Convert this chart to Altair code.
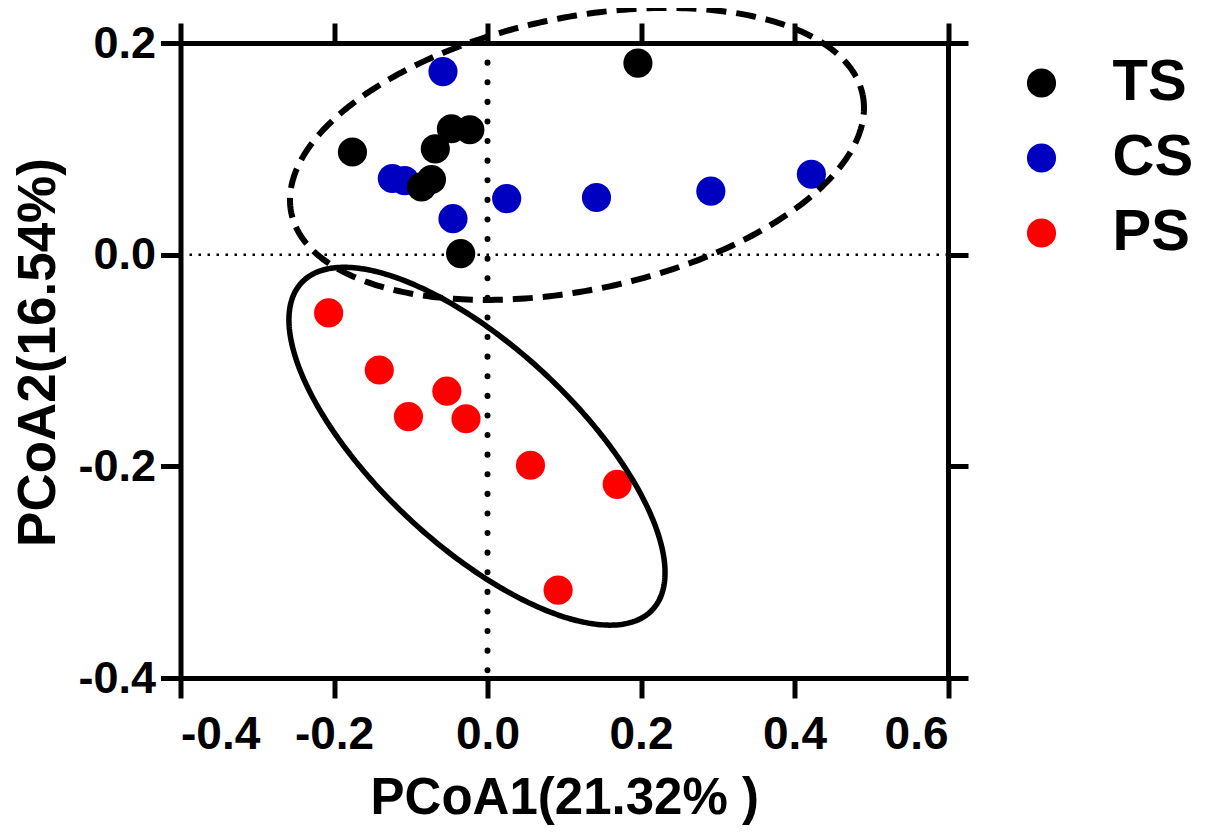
import altair as alt
import numpy as np
import pandas as pd

# ---------------- data ----------------
legend_order = ["TS", "CS", "PS"]
group_colors = ["#000000", "#0000C0", "#FF0000"]

ts_x = [0.196, -0.176, -0.068, -0.047, -0.023, -0.086, -0.073, -0.035]
ts_y = [0.181, 0.097, 0.100, 0.119, 0.118, 0.064, 0.071, 0.001]

cs_x = [-0.058, -0.124, -0.108, -0.045, 0.025, 0.142, 0.291, 0.422]
cs_y = [0.173, 0.072, 0.070, 0.034, 0.053, 0.054, 0.060, 0.076]

ps_x = [-0.207, -0.141, -0.053, -0.103, -0.028, 0.056, 0.169, 0.092]
ps_y = [-0.055, -0.109, -0.129, -0.153, -0.155, -0.199, -0.217, -0.317]

x_ticks = [-0.4, -0.2, 0.0, 0.2, 0.4, 0.6]
y_ticks = [-0.4, -0.2, 0.0, 0.2]
x_title = "PCoA1(21.32% )"
y_title = "PCoA2(16.54%)"

# ellipses in data units: centre x, centre y, semi-axis 1 (dx, dy), semi-axis 2 (dx, dy)
dashed_ellipse = [0.1166, 0.0952, 0.3722, 0.0559, 0.0360, -0.1261]
solid_ellipse = [-0.0137, -0.181, 0.2286, -0.1545, -0.0882, -0.0686]

ref_zero = [0.0]

# ---------------- tables ----------------
pts = pd.DataFrame({
    "x": cs_x + ts_x + ps_x,
    "y": cs_y + ts_y + ps_y,
    "group": ["CS"] * len(cs_x) + ["TS"] * len(ts_x) + ["PS"] * len(ps_x),
})


def ellipse_df(p):
    t = np.linspace(0, 2 * np.pi, 361)
    cx, cy, ux, uy, vx, vy = p
    return pd.DataFrame({
        "x": cx + ux * np.cos(t) + vx * np.sin(t),
        "y": cy + uy * np.cos(t) + vy * np.sin(t),
        "i": np.arange(len(t)),
    })


zero_df = pd.DataFrame({"v": ref_zero})

FONT = "Liberation Sans"
xs = alt.Scale(domain=[-0.4, 0.6], nice=False, zero=False)
ys = alt.Scale(domain=[-0.4, 0.2], nice=False, zero=False)
minus_fix = "replace(datum.label, '\u2212', '-')"

axis_common = dict(
    domainColor="black", domainWidth=5, tickColor="black", tickWidth=5,
    tickSize=20, grid=False, labelFont=FONT, labelFontWeight="bold",
    labelColor="black", titleFont=FONT, titleFontWeight="bold", titleColor="black",
)

hrule = alt.Chart(zero_df).mark_rule(
    color="black", strokeWidth=2.5, strokeDash=[2.5, 6.5]
).encode(y=alt.Y("v:Q", scale=ys, axis=None))

vrule = alt.Chart(zero_df).mark_rule(
    color="black", strokeWidth=6, strokeDash=[0.1, 19.5], strokeCap="round"
).encode(x=alt.X("v:Q", scale=xs, axis=None))

points = alt.Chart(pts).mark_circle(size=850, opacity=1).encode(
    x=alt.X("x:Q", scale=xs, axis=alt.Axis(
        orient="bottom", values=x_ticks, format=".1f", labelExpr=minus_fix,
        labelFontSize=46, labelPadding=14, title=x_title, titleFontSize=51,
        titlePadding=16, **axis_common)),
    y=alt.Y("y:Q", scale=ys, axis=alt.Axis(
        orient="left", values=y_ticks, format=".1f", labelExpr=minus_fix,
        labelFontSize=45, labelPadding=5, title=y_title, titleFontSize=53,
        titlePadding=12, titleY=309, **axis_common)),
    color=alt.Color("group:N", scale=alt.Scale(domain=legend_order, range=group_colors),
                    legend=alt.Legend(
                        orient="none", legendX=832, legendY=11, title=None,
                        symbolType="circle", symbolSize=850, symbolStrokeWidth=0,
                        symbolOpacity=1, labelFont=FONT, labelFontWeight="bold",
                        labelFontSize=58, labelColor="black", labelOffset=42,
                        rowPadding=17, padding=0)),
)

dashed = alt.Chart(ellipse_df(dashed_ellipse)).mark_line(
    color="black", strokeWidth=6, strokeDash=[20, 10]
).encode(
    x=alt.X("x:Q", scale=xs, axis=None),
    y=alt.Y("y:Q", scale=ys, axis=None),
    order="i:Q",
)

solid = alt.Chart(ellipse_df(solid_ellipse)).mark_line(
    color="black", strokeWidth=5.5
).encode(
    x=alt.X("x:Q", scale=xs, axis=None),
    y=alt.Y("y:Q", scale=ys, axis=None),
    order="i:Q",
)

frame = alt.Chart(pts).mark_point(opacity=0).encode(
    x=alt.X("x:Q", scale=xs, axis=alt.Axis(
        orient="top", values=x_ticks, labels=False, title=None, **axis_common)),
    y=alt.Y("y:Q", scale=ys, axis=alt.Axis(
        orient="right", values=y_ticks, labels=False, title=None, **axis_common)),
)

chart = alt.layer(hrule, vrule, points, dashed, solid, frame).resolve_axis(
    x="independent", y="independent"
).properties(
    width=767.5, height=635,
    padding={"left": 172.5, "top": 35, "right": 250, "bottom": 150},
    autosize=alt.AutoSizeParams(type="none"),
    background="white",
).configure_view(stroke=None)

chart.save("out.html", embed_options={"renderer": "svg", "actions": False})
